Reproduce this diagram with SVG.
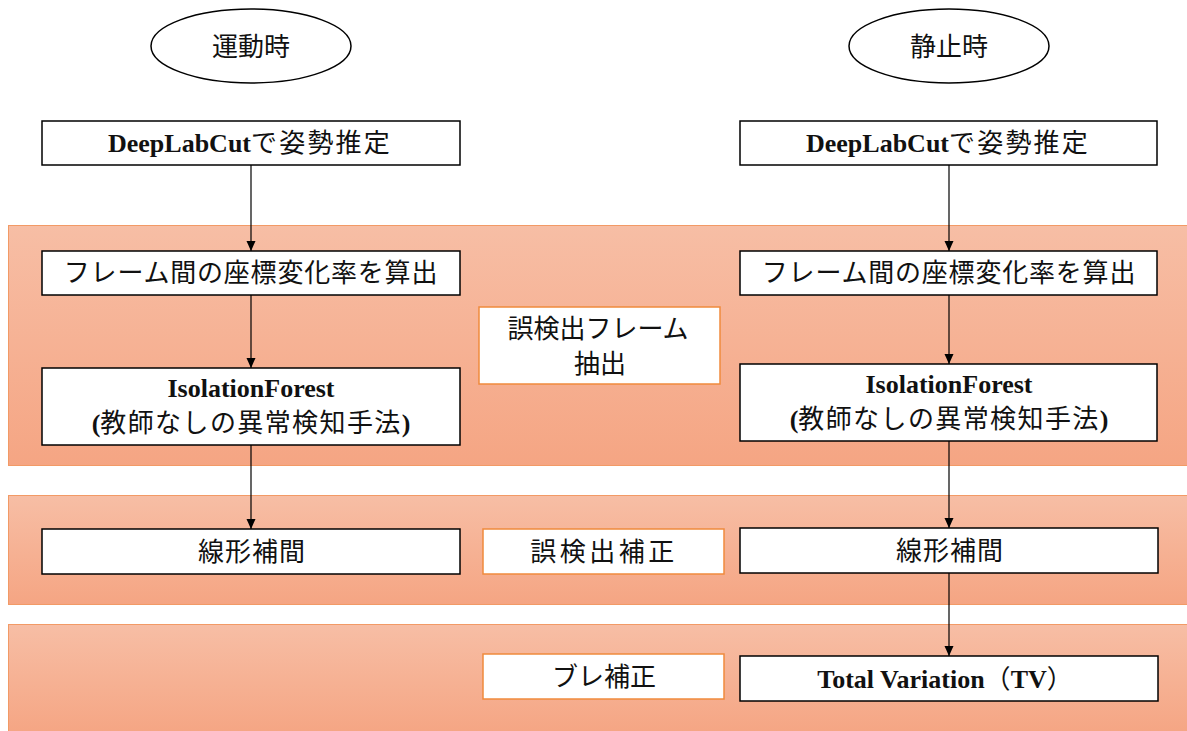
<svg xmlns="http://www.w3.org/2000/svg" width="1187" height="731" viewBox="0 0 1187 731">
<defs>
<linearGradient id="bandGrad" x1="0" y1="0" x2="0" y2="1">
<stop offset="0" stop-color="#f7bea5"/>
<stop offset="1" stop-color="#f5a583"/>
</linearGradient>
<marker id="ah" markerWidth="10" markerHeight="10" refX="10" refY="5" orient="auto" markerUnits="userSpaceOnUse">
<path d="M0,0.5 L10,5 L0,9.5 Z" fill="#000"/>
</marker>
</defs>
<style>
.band{fill:url(#bandGrad);stroke:#f29a66;stroke-width:1}
.box{fill:#fff;stroke:#000;stroke-width:1.5}
.obox{fill:#fff;stroke:#f08a3c;stroke-width:1.5}
.ell{fill:#fff;stroke:#000;stroke-width:1.5}
.t{font-family:"Liberation Serif","Noto Sans CJK JP",serif;font-size:26px;fill:#111;text-anchor:middle}
.j{font-family:"Noto Sans CJK JP","Liberation Serif",sans-serif;font-size:26px;fill:#111;text-anchor:middle}
.b{font-weight:bold}
.conn{stroke:#000;stroke-width:1.2;fill:none}
</style>
<rect width="1187" height="731" fill="#fff"/>
<g id="bands">
<rect class="band" x="8.5" y="225.5" width="1190" height="240"/>
<rect class="band" x="8.5" y="495.5" width="1190" height="109"/>
<rect class="band" x="8.5" y="624.5" width="1190" height="110"/>
</g>
<g id="connectors">
<line class="conn" x1="251" y1="165" x2="251" y2="251" marker-end="url(#ah)"/>
<line class="conn" x1="251" y1="295" x2="251" y2="368" marker-end="url(#ah)"/>
<line class="conn" x1="251" y1="445" x2="251" y2="529" marker-end="url(#ah)"/>
<line class="conn" x1="949" y1="165" x2="949" y2="251" marker-end="url(#ah)"/>
<line class="conn" x1="949" y1="295" x2="949" y2="364" marker-end="url(#ah)"/>
<line class="conn" x1="949" y1="441" x2="949" y2="528" marker-end="url(#ah)"/>
<line class="conn" x1="949" y1="573" x2="949" y2="656" marker-end="url(#ah)"/>
</g>
<g id="n-motion">
<ellipse class="ell" cx="251" cy="46" rx="100" ry="37"/>
<text class="j" x="251" y="56">運動時</text>
</g>
<g id="n-static">
<ellipse class="ell" cx="949" cy="46" rx="100" ry="37"/>
<text class="j" x="949" y="56">静止時</text>
</g>
<g id="n-dlc-left">
<rect class="box" x="42" y="121" width="418" height="44"/>
<text class="t" x="250" y="152"><tspan class="b">DeepLabCut</tspan><tspan font-family="Noto Sans CJK JP, sans-serif" letter-spacing="2.2">で姿勢推定</tspan></text>
</g>
<g id="n-dlc-right">
<rect class="box" x="740" y="121" width="417" height="44"/>
<text class="t" x="948" y="152"><tspan class="b">DeepLabCut</tspan><tspan font-family="Noto Sans CJK JP, sans-serif" letter-spacing="2.2">で姿勢推定</tspan></text>
</g>
<g id="n-rate-left">
<rect class="box" x="42" y="251" width="418" height="44"/>
<text class="j" x="251" y="282" letter-spacing="0.8">フレーム間の座標変化率を算出</text>
</g>
<g id="n-rate-right">
<rect class="box" x="740" y="251" width="417" height="44"/>
<text class="j" x="949" y="282" letter-spacing="0.8">フレーム間の座標変化率を算出</text>
</g>
<g id="n-if-left">
<rect class="box" x="42" y="368" width="418" height="77"/>
<text class="t b" x="251" y="397">IsolationForest</text>
<text class="t" x="251" y="432"><tspan class="b">(</tspan><tspan font-family="Noto Sans CJK JP, sans-serif" letter-spacing="1.4">教師なしの異常検知手法</tspan><tspan class="b">)</tspan></text>
</g>
<g id="n-if-right">
<rect class="box" x="740" y="364" width="417" height="77"/>
<text class="t b" x="949" y="393">IsolationForest</text>
<text class="t" x="949" y="428"><tspan class="b">(</tspan><tspan font-family="Noto Sans CJK JP, sans-serif" letter-spacing="1.4">教師なしの異常検知手法</tspan><tspan class="b">)</tspan></text>
</g>
<g id="n-extract">
<rect class="obox" x="479" y="307" width="241" height="77"/>
<text class="j" x="598" y="338">誤検出フレーム</text>
<text class="j" x="600" y="373">抽出</text>
</g>
<g id="n-interp-left">
<rect class="box" x="42" y="529" width="418" height="45"/>
<text class="j" x="252" y="561" letter-spacing="1">線形補間</text>
</g>
<g id="n-correct">
<rect class="obox" x="483" y="529" width="241" height="45"/>
<text class="j" x="604" y="561" letter-spacing="3.5">誤検出補正</text>
</g>
<g id="n-interp-right">
<rect class="box" x="740" y="528" width="418" height="45"/>
<text class="j" x="950" y="560" letter-spacing="1">線形補間</text>
</g>
<g id="n-blur">
<rect class="obox" x="483" y="654" width="241" height="45"/>
<text class="j" x="604" y="686">ブレ補正</text>
</g>
<g id="n-tv">
<rect class="box" x="740" y="656" width="418" height="45"/>
<text class="t b" x="945" y="688" font-size="25">Total Variation<tspan font-family="Noto Sans CJK JP, sans-serif" font-weight="normal">（</tspan>TV<tspan font-family="Noto Sans CJK JP, sans-serif" font-weight="normal">）</tspan></text>
</g>
</svg>
